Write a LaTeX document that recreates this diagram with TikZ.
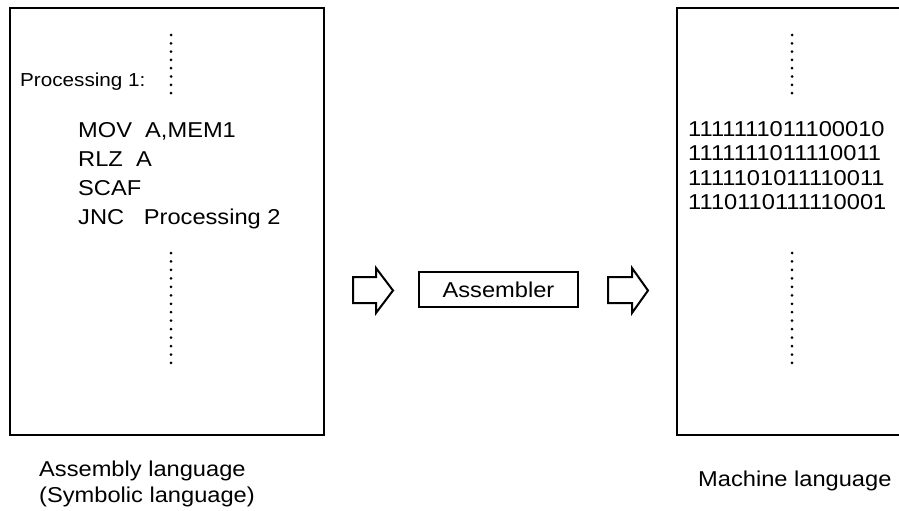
\documentclass[tikz,border=0pt]{standalone}
\usepackage{fontspec}
\setmainfont[FakeStretch=1.1]{Liberation Sans}
\begin{document}
\begin{tikzpicture}[x=1pt,y=-1pt,
  frame/.style={line width=2.5pt},
  txt/.style={anchor=base west,inner sep=0pt,font=\fontsize{21.5}{25}\selectfont},
  smalltxt/.style={anchor=base west,inner sep=0pt,font=\fontsize{18.8}{22}\selectfont},
  blockarrow/.style={line width=2pt,line join=miter,fill=white},
  toolbox/.style={draw,line width=2pt,minimum width=159pt,minimum height=35pt,inner sep=0pt,font=\fontsize{21.5}{25}\selectfont},
  dot/.style={fill=black,draw=none}]
\useasboundingbox (0,0) rectangle (899,511);
\clip (0,0) rectangle (899,511);

% source listing sheet
\draw[frame] (10,8) rectangle (324,435);
\node[smalltxt] (p1) at (20,86) {Processing 1:};
\node[txt] (l1) at (78,137) {MOV\ \ A,MEM1};
\node[txt] (l2) at (78,166) {RLZ\ \ A};
\node[txt] (l3) at (78,195) {SCAF};
\node[txt] (l4) at (78,224) {JNC\ \ \ Processing 2};
\foreach \k in {0,...,7} \fill[dot] (171,35+\k*8.3) circle (1.5);
\foreach \k in {0,...,13} \fill[dot] (171,253+\k*8.46) circle (1.5);
\node[txt] (cap1) at (39,476) {Assembly language};
\node[txt] (cap2) at (39,502) {(Symbolic language)};

% translation step
\draw[blockarrow] (353,277) -- (376,277) -- (376,268) -- (393,290.5) -- (376,313) -- (376,303) -- (353,303) -- cycle;
\node[toolbox] (asm) at (498.5,289.5) {Assembler};
\draw[blockarrow] (608,277) -- (632,277) -- (632,268) -- (648,290.5) -- (632,313) -- (632,303) -- (608,303) -- cycle;

% object code sheet
\draw[frame] (910,8) -- (677,8) -- (677,435) -- (910,435);
\foreach \k in {0,...,7} \fill[dot] (792,35+\k*8.3) circle (1.5);
\node[txt] (b1) at (688,136) {1111111011100010};
\node[txt] (b2) at (688,160.5) {1111111011110011};
\node[txt] (b3) at (688,185) {1111101011110011};
\node[txt] (b4) at (688,209.5) {1110110111110001};
\foreach \k in {0,...,13} \fill[dot] (792,253+\k*8.46) circle (1.5);
\node[txt] (cap3) at (698,486) {Machine language};
\end{tikzpicture}
\end{document}
